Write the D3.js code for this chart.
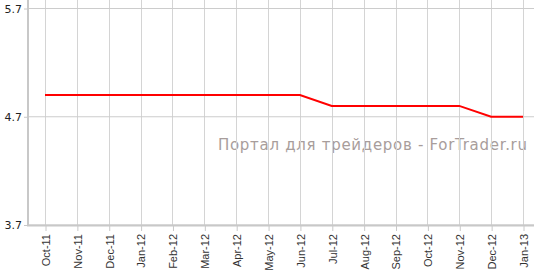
<!DOCTYPE html>
<html>
<head>
<meta charset="utf-8">
<script src="https://cdn.jsdelivr.net/npm/d3@7"></script>
<style>
  body { margin: 0; background: #fff; }
  svg { display: block; }
</style>
</head>
<body>
<div id="chart-area"></div>
<script>
var width = 534;
var height = 270;

// Data
var months = ["Oct-11", "Nov-11", "Dec-11", "Jan-12", "Feb-12", "Mar-12", "Apr-12", "May-12",
  "Jun-12", "Jul-12", "Aug-12", "Sep-12", "Oct-12", "Nov-12", "Dec-12", "Jan-13"];
var rates = [4.9, 4.9, 4.9, 4.9, 4.9, 4.9, 4.9, 4.9, 4.9, 4.8, 4.8, 4.8, 4.8, 4.8, 4.7, 4.7];
var yTicks = [3.7, 4.7, 5.7];

const svg = d3.select("#chart-area")
  .append("svg")
    .attr("width", width)
    .attr("height", height);

// Scales
var x = d3.scalePoint()
  .domain(months)
  .range([45, 523]);

var y = d3.scaleLinear()
  .domain([3.7, 5.7])
  .range([225, 8.5]);

// Watermark
svg.append("text")
  .attr("x", 218)
  .attr("y", 150)
  .attr("textLength", 309)
  .style("font-family", "DejaVu Sans, Verdana, sans-serif")
  .style("font-size", "15px")
  .style("fill", "#a89d9b")
  .text("Портал для трейдеров - ForTrader.ru");

// Grid
svg.selectAll(".vgrid")
  .data(months)
  .enter().append("line")
    .attr("class", "vgrid")
    .attr("x1", d => Math.round(x(d)) + 0.5)
    .attr("x2", d => Math.round(x(d)) + 0.5)
    .attr("y1", 0)
    .attr("y2", 225)
    .attr("stroke", "#d4d4d4");

svg.selectAll(".hgrid")
  .data(yTicks)
  .enter().append("line")
    .attr("class", "hgrid")
    .attr("x1", 28)
    .attr("x2", width)
    .attr("y1", d => y(d))
    .attr("y2", d => y(d))
    .attr("stroke", "#cccccc");

// Axes
var xAxisCall = d3.axisBottom(x).tickSize(5).tickPadding(3);
var xAxisGroup = svg.append("g")
  .attr("transform", "translate(0.5, 226)")
  .call(xAxisCall);
xAxisGroup.select(".domain").remove();
xAxisGroup.selectAll("line").attr("stroke", "#c8c8c8");
xAxisGroup.selectAll("text")
  .attr("transform", "rotate(-90)")
  .attr("x", -8)
  .attr("y", 0)
  .attr("dy", "0.35em")
  .style("text-anchor", "end")
  .style("font-family", "Liberation Sans, Arial, sans-serif")
  .style("font-size", "11px")
  .style("fill", "#333");

var yAxisCall = d3.axisLeft(y).tickValues(yTicks).tickFormat(d3.format(".1f")).tickSize(4).tickPadding(2);
var yAxisGroup = svg.append("g")
  .attr("transform", "translate(28, 0)")
  .call(yAxisCall);
yAxisGroup.select(".domain").remove();
yAxisGroup.selectAll("line").attr("stroke", "#c8c8c8");
yAxisGroup.selectAll("text")
  .style("font-family", "DejaVu Sans, Verdana, sans-serif")
  .style("font-size", "11px")
  .style("fill", "#222");

// Axis lines
svg.append("line")
  .attr("x1", 28).attr("x2", 28)
  .attr("y1", 0).attr("y2", 226)
  .attr("stroke", "#c8c8c8")
  .attr("stroke-width", 2);

svg.append("line")
  .attr("x1", 27).attr("x2", width)
  .attr("y1", 225.5).attr("y2", 225.5)
  .attr("stroke", "#c8c8c8")
  .attr("stroke-width", 2);

// Line
var line = d3.line()
  .x((d, i) => x(months[i]))
  .y(d => y(d));

svg.append("path")
  .datum(rates)
  .attr("fill", "none")
  .attr("stroke", "#ff0000")
  .attr("stroke-width", 2)
  .attr("d", line);
</script>
</body>
</html>
